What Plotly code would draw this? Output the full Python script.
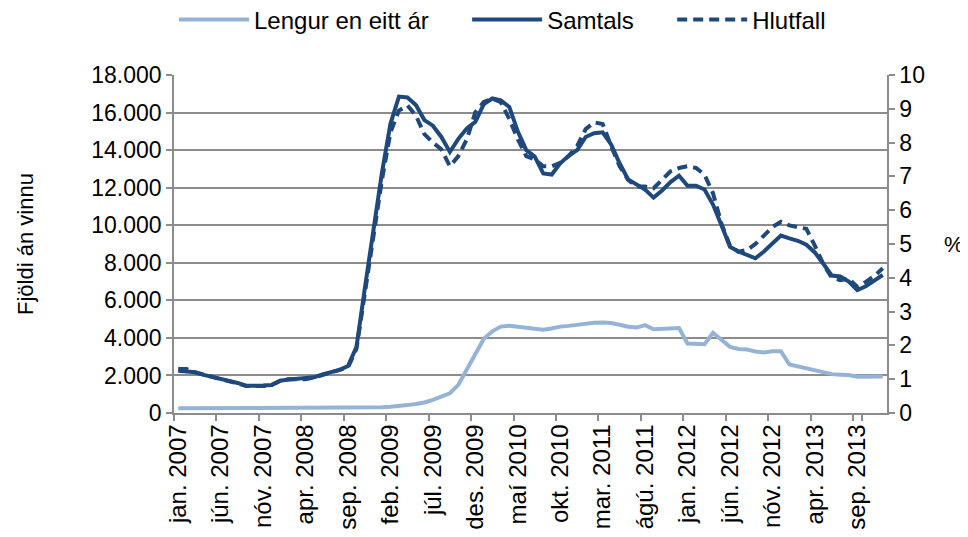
import plotly.graph_objects as go

# ---- data -------------------------------------------------------------
month_abbr = ["jan.", "feb.", "mar.", "apr.", "maí", "jún.", "júl.", "ágú.", "sep.", "okt.", "nóv.", "des."]
years = [2007, 2008, 2009, 2010, 2011, 2012, 2013]
months = [f"{m} {y}" for y in years for m in month_abbr]

# Long-term unemployed (more than one year)
lengur = [250, 250, 260, 270, 280, 290, 300, 300, 300, 290, 290, 280,
          280, 270, 270, 260, 260, 250, 250, 250, 250, 260, 270, 280,
          300, 330, 360, 420, 480, 560, 700, 850, 1050, 1500, 2300, 3100,
          3950, 4350, 4600, 4650, 4600, 4520, 4470, 4430, 4500, 4600, 4640, 4700,
          4790, 4810, 4820, 4790, 4700, 4590, 4550, 4680, 4460, 4500, 4530, 4530,
          3700, 3680, 3660, 4270, 3900, 3520, 3410, 3380, 3280, 3220, 3290, 3290,
          2580, 2480, 2360, 2290, 2180, 2070, 2040, 2020, 1930, 1930, 1930, 1950]

# Total unemployed
samtals = [2250, 2230, 2170, 2030, 1930, 1850, 1720, 1600, 1450, 1440, 1460, 1490,
           1720, 1780, 1810, 1840, 1900, 2060, 2200, 2300, 2500, 3530, 6700, 9800,
           12800, 15400, 16850, 16800, 16400, 15600, 15300, 14700, 13900, 14600, 15150, 15500,
           16450, 16750, 16650, 16300, 15000, 14000, 13650, 12760, 12700, 13300, 13700, 14000,
           14700, 14900, 14950, 14300, 13300, 12440, 12200, 11900, 11470, 11850, 12300, 12640,
           12100, 12100, 11900, 11100, 10000, 8850, 8600, 8420, 8240, 8600, 9050, 9450,
           9300, 9170, 8960, 8550, 7950, 7320, 7270, 7000, 6550, 6750, 7050, 7350]

# Unemployment rate (%)
hlutfall = [1.3, 1.3, 1.2, 1.15, 1.07, 1.0, 0.95, 0.88, 0.8, 0.8, 0.8, 0.83,
            0.95, 1.0, 1.0, 1.0, 1.05, 1.12, 1.2, 1.28, 1.35, 1.9, 3.6, 5.3,
            6.9, 8.3, 8.95, 9.1, 8.8, 8.25, 8.0, 7.8, 7.3, 7.6, 8.1, 8.9,
            9.2, 9.3, 9.2, 8.7, 8.1, 7.6, 7.5, 7.3, 7.3, 7.4, 7.6, 7.9,
            8.4, 8.6, 8.55, 7.9, 7.3, 6.9, 6.7, 6.7, 6.65, 6.9, 7.15, 7.25,
            7.3, 7.25, 7.05, 6.5, 5.6, 4.95, 4.77, 4.82, 5.0, 5.25, 5.5, 5.66,
            5.55, 5.5, 5.45, 4.95, 4.4, 4.0, 3.93, 3.98, 3.73, 3.88, 4.05, 4.28]

tick_labels = months[::5]
series_names = ["Lengur en eitt ár", "Samtals", "Hlutfall"]

# ---- figure -----------------------------------------------------------
FONT = "Liberation Sans"
LIGHT = "#95B3D7"
DARK = "#1F497D"
GRID = "#8C8C8C"
PAD = "\u00a0" * 5  # spacing between legend entries

# page body has an 8px margin, so the figure is drawn 8px in from the window edge
W, H = 960, 529

fig = go.Figure()
fig.add_trace(go.Scatter(x=months, y=lengur, name=series_names[0] + PAD, mode="lines",
                         line=dict(color=LIGHT, width=4)))
fig.add_trace(go.Scatter(x=months, y=samtals, name=series_names[1] + PAD, mode="lines",
                         line=dict(color=DARK, width=4)))
fig.add_trace(go.Scatter(x=months, y=hlutfall, name=series_names[2], mode="lines", yaxis="y2",
                         line=dict(color=DARK, width=4, dash="10px,6px")))

axis_common = dict(ticks="outside", ticklen=6, tickcolor=GRID, tickwidth=1.5,
                   showline=True, linecolor=GRID, linewidth=1.5,
                   zeroline=False, automargin=False)

fig.update_layout(
    width=W, height=H,
    margin=dict(l=166, r=81, t=67, b=124),
    paper_bgcolor="white", plot_bgcolor="white",
    separators=",.",
    font=dict(family=FONT, size=23, color="black"),
    showlegend=True,
    legend=dict(orientation="h", xref="container", yref="container",
                x=166 / W, xanchor="left", y=1 - 12 / H, yanchor="middle",
                itemwidth=70, font=dict(size=24), traceorder="normal",
                bgcolor="rgba(0,0,0,0)"),
    xaxis=dict(type="category", categoryorder="array", categoryarray=months,
               range=[-0.5, len(months) - 0.5],
               tickmode="array", tickvals=tick_labels, ticktext=tick_labels,
               tickson="boundaries", tickangle=-90,
               showgrid=False, tickfont=dict(size=24), **axis_common),
    yaxis=dict(range=[0, 18000], dtick=2000, tickformat=",d",
               showgrid=True, gridcolor=GRID, gridwidth=1.5,
               tickfont=dict(size=23), **axis_common),
    yaxis2=dict(range=[0, 10], dtick=1, overlaying="y", side="right",
                showgrid=False, tickfont=dict(size=23), **axis_common),
    annotations=[
        dict(text="Fjöldi án vinnu", xref="paper", yref="paper", x=-0.209, y=0.5,
             textangle=-90, showarrow=False, xanchor="center", yanchor="middle",
             font=dict(size=22)),
        dict(text="%", xref="paper", yref="paper", x=1.094, y=0.5,
             showarrow=False, xanchor="center", yanchor="middle",
             font=dict(size=22)),
    ],
)

fig.write_html("out.html")
